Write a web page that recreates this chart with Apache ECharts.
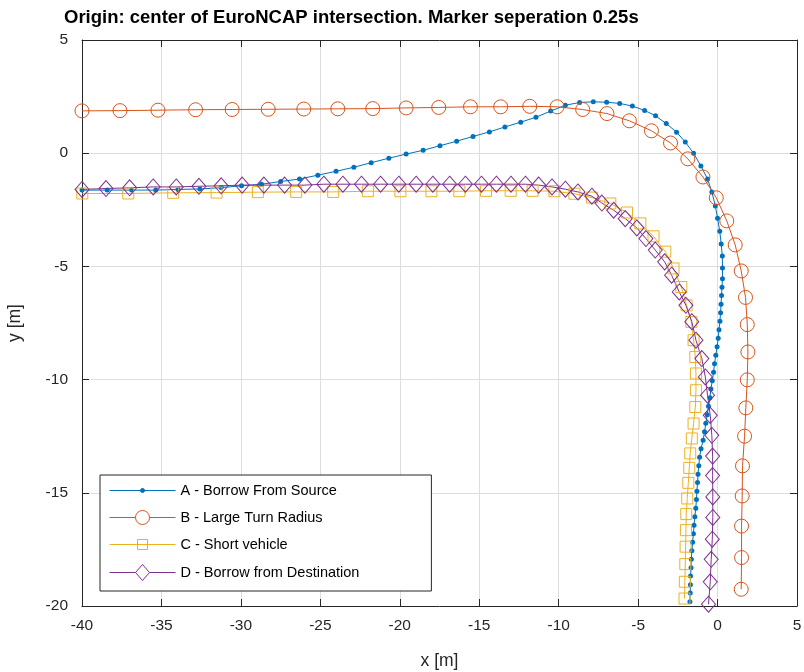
<!DOCTYPE html>
<html>
<head>
<meta charset="utf-8">
<script src="https://cdn.jsdelivr.net/npm/echarts@6/dist/echarts.min.js"></script>
<style>
  html, body { margin: 0; padding: 0; background: #fff; }
  #chart { width: 804px; height: 672px; }
</style>
</head>
<body>
<div id="chart"></div>
<script>
// trajectories, one marker every 0.25 s
const names = ['A - Borrow From Source', 'B - Large Turn Radius', 'C - Short vehicle', 'D - Borrow from Destination']
const colors = ['#0072BD', '#D95319', '#EDB120', '#7E2F8E']

const aX = [-40.00, -38.41, -36.87, -35.36, -33.96, -32.58, -31.24, -29.96, -28.70, -27.50,
  -26.31, -25.16, -24.01, -22.89, -21.80, -20.69, -19.60, -18.53, -17.47, -16.42,
  -15.39, -14.36, -13.38, -12.39, -11.43, -10.50, -9.58, -8.68, -7.82, -6.98,
  -6.16, -5.36, -4.59, -3.90, -3.23, -2.58, -2.03, -1.51, -1.05, -0.63,
  -0.36, -0.14, 0.00, 0.14, 0.23, 0.30, 0.31, 0.31,
  0.28, 0.25, 0.22, 0.19, 0.15, 0.09, 0.04, -0.03, -0.11, -0.19,
  -0.25, -0.33, -0.42, -0.48, -0.57, -0.65, -0.74, -0.82, -0.91, -1.04,
  -1.13, -1.18, -1.23, -1.26, -1.30, -1.33, -1.37, -1.43, -1.48, -1.52,
  -1.57, -1.62, -1.65, -1.67, -1.70, -1.71, -1.72, -1.74]
const aY = [-1.63, -1.63, -1.63, -1.63, -1.60, -1.58, -1.52, -1.44, -1.37, -1.25,
  -1.14, -0.97, -0.80, -0.62, -0.42, -0.22, -0.04, 0.13, 0.33, 0.53,
  0.74, 0.94, 1.16, 1.37, 1.59, 1.86, 2.12, 2.24, 2.27, 2.25,
  2.20, 2.08, 1.89, 1.65, 1.31, 0.93, 0.49, 0.00, -0.56, -1.14,
  -1.71, -2.33, -2.87, -3.45, -4.01, -4.54, -5.07, -5.55,
  -5.92, -6.29, -6.67, -7.05, -7.42, -7.80, -8.17, -8.55, -8.92, -9.30,
  -9.67, -10.05, -10.42, -10.80, -11.18, -11.55, -11.93, -12.30, -12.68, -13.05,
  -13.43, -13.80, -14.18, -14.55, -14.93, -15.30, -15.68, -16.06, -16.43, -16.81,
  -17.18, -17.56, -17.93, -18.31, -18.68, -19.06, -19.43, -19.81]

const bX = [-40.00, -37.61, -35.22, -32.85, -30.55, -28.28, -26.04, -23.90, -21.70, -19.60,
  -17.55, -15.55, -13.65, -11.82, -10.10, -8.49, -6.96, -5.55, -4.16, -2.96,
  -1.87, -0.92, -0.08, 0.58, 1.11, 1.49, 1.76, 1.87, 1.91, 1.87,
  1.78, 1.70, 1.57, 1.55, 1.51, 1.51, 1.49]
const bY = [1.87, 1.88, 1.90, 1.92, 1.93, 1.94, 1.95, 1.96, 1.97, 2.00,
  2.02, 2.05, 2.05, 2.07, 2.05, 1.93, 1.75, 1.43, 0.99, 0.45,
  -0.25, -1.05, -1.97, -2.99, -4.05, -5.20, -6.37, -7.57, -8.78, -10.01,
  -11.25, -12.50, -13.81, -15.14, -16.47, -17.86, -19.26]

const cX = [-39.98, -37.09, -34.26, -31.53, -28.93, -26.52, -24.19, -22.01, -19.96, -18.01,
  -16.25, -14.57, -13.02, -11.64, -10.27, -9.01, -7.91, -6.75, -5.70, -4.86,
  -4.03, -3.29, -2.77, -2.28, -1.95, -1.65, -1.51, -1.40, -1.36, -1.36,
  -1.40, -1.51, -1.62, -1.72, -1.78, -1.84, -1.91, -1.97, -1.99, -2.01,
  -2.03, -2.06, -2.08]
const cY = [-1.78, -1.78, -1.75, -1.74, -1.72, -1.71, -1.71, -1.68, -1.68, -1.68,
  -1.68, -1.66, -1.66, -1.66, -1.68, -1.79, -1.96, -2.22, -2.62, -3.10,
  -3.67, -4.35, -5.09, -5.91, -6.72, -7.45, -8.26, -9.00, -9.73, -10.47,
  -11.21, -11.94, -12.60, -13.26, -13.90, -14.56, -15.25, -15.94, -16.65, -17.38,
  -18.15, -18.93, -19.67]

const dX = [-40.00, -38.49, -37.00, -35.52, -34.07, -32.64, -31.24, -29.92, -28.55, -27.25,
  -25.97, -24.78, -23.58, -22.41, -21.21, -20.06, -18.97, -17.92, -16.86, -15.87,
  -14.86, -13.92, -13.00, -12.09, -11.26, -10.42, -9.58, -8.79, -7.91, -7.28,
  -6.54, -5.81, -5.08, -4.51, -3.92, -3.33, -2.89, -2.41, -1.99, -1.62,
  -1.36, -0.99, -0.77, -0.63, -0.46, -0.36, -0.31, -0.31, -0.30, -0.30,
  -0.33, -0.40, -0.46, -0.57]
const dY = [-1.60, -1.56, -1.53, -1.49, -1.49, -1.46, -1.44, -1.41, -1.41, -1.41,
  -1.41, -1.37, -1.37, -1.37, -1.37, -1.37, -1.37, -1.37, -1.37, -1.37,
  -1.37, -1.37, -1.37, -1.37, -1.41, -1.49, -1.59, -1.71, -1.90, -2.20,
  -2.52, -2.89, -3.30, -3.77, -4.28, -4.80, -5.39, -6.13, -6.72, -7.44,
  -8.26, -9.07, -9.88, -10.69, -11.58, -12.46, -13.38, -14.24, -15.18, -16.09,
  -17.05, -17.94, -18.93, -19.92]

const font = 'Arial, "Liberation Sans", Helvetica, sans-serif'
const axisColor = '#262626'

function pairs (xs, ys) {
  return xs.map((x, i) => [x, ys[i]])
}

// legend icons: line with the marker drawn on top
const legendIcons = [
  'path://M0,2L66,2M31,2A2,2 0 1 1 35,2A2,2 0 1 1 31,2Z',
  'path://M0,7L26,7M40,7L66,7M26,7A7,7 0 1 1 40,7A7,7 0 1 1 26,7Z',
  'path://M0,5L66,5M28,0L38,0L38,10L28,10Z',
  'path://M0,8L26,8M40,8L66,8M33,0L40,8L33,16L26,8Z'
]
const legendFill = ['#0072BD', 'none', 'none', 'none']

function baseSeries (i, data) {
  return {
    name: names[i],
    type: 'line',
    data: data,
    clip: false,
    lineStyle: { color: colors[i], width: 1 },
    emphasis: { disabled: true },
    animation: false
  }
}

const sA = baseSeries(0, pairs(aX, aY))
sA.symbol = 'circle'
sA.symbolSize = 5
sA.itemStyle = { color: colors[0] }

const sB = baseSeries(1, pairs(bX, bY))
sB.symbol = 'circle'
sB.symbolSize = 14
sB.itemStyle = { color: 'rgba(0,0,0,0)', borderColor: colors[1], borderWidth: 1 }

const sC = baseSeries(2, pairs(cX, cY))
sC.symbol = 'rect'
sC.symbolSize = 11
sC.itemStyle = { color: 'rgba(0,0,0,0)', borderColor: colors[2], borderWidth: 1 }

const sD = baseSeries(3, pairs(dX, dY))
sD.symbol = 'diamond'
sD.symbolSize = [14, 16]
sD.itemStyle = { color: 'rgba(0,0,0,0)', borderColor: colors[3], borderWidth: 1 }

function valueAxis (min, max, pos, main) {
  return {
    type: 'value',
    position: pos,
    min: min,
    max: max,
    interval: 5,
    axisLine: { show: true, onZero: false, lineStyle: { color: axisColor, width: 1 } },
    axisTick: { show: true, inside: true, length: 7, lineStyle: { color: axisColor } },
    axisLabel: {
      show: main,
      color: axisColor,
      fontFamily: font,
      fontSize: 15.5,
      margin: (pos === 'left') ? 14 : 12
    },
    splitLine: { show: main, lineStyle: { color: '#dedede', width: 1 } }
  }
}

const xMain = valueAxis(-40, 5, 'bottom', true)
xMain.name = 'x [m]'
xMain.nameLocation = 'middle'
xMain.nameGap = 46
xMain.nameTextStyle = { color: axisColor, fontFamily: font, fontSize: 17.5 }

const yMain = valueAxis(-20, 5, 'left', true)
yMain.name = 'y [m]'
yMain.nameLocation = 'middle'
yMain.nameGap = 58
yMain.nameTextStyle = { color: axisColor, fontFamily: font, fontSize: 17.5 }

const option = {
  backgroundColor: '#fff',
  animation: false,
  title: {
    text: 'Origin: center of EuroNCAP intersection. Marker seperation 0.25s',
    left: 64,
    top: 8,
    padding: 0,
    textStyle: { color: '#000', fontFamily: font, fontWeight: 'bold', fontSize: 18.5 }
  },
  grid: { left: 82, right: 7, top: 40, bottom: 66, containLabel: false, outerBoundsMode: 'none' },
  legend: {
    orient: 'vertical',
    left: 100,
    top: 475,
    padding: [8, 72, 8, 7],
    itemWidth: 66,
    itemHeight: 16,
    itemGap: 10,
    backgroundColor: '#fff',
    borderColor: axisColor,
    borderWidth: 1,
    textStyle: { color: '#000', fontFamily: font, fontSize: 14.5 },
    data: names.map((n, i) => ({
      name: n,
      icon: legendIcons[i],
      itemStyle: { color: legendFill[i], borderColor: colors[i], borderWidth: 1 }
    }))
  },
  xAxis: [xMain, valueAxis(-40, 5, 'top', false)],
  yAxis: [yMain, valueAxis(-20, 5, 'right', false)],
  series: [sA, sB, sC, sD]
}

const chart = echarts.init(document.getElementById('chart'), null, { renderer: 'canvas' })
chart.setOption(option)
</script>
</body>
</html>
